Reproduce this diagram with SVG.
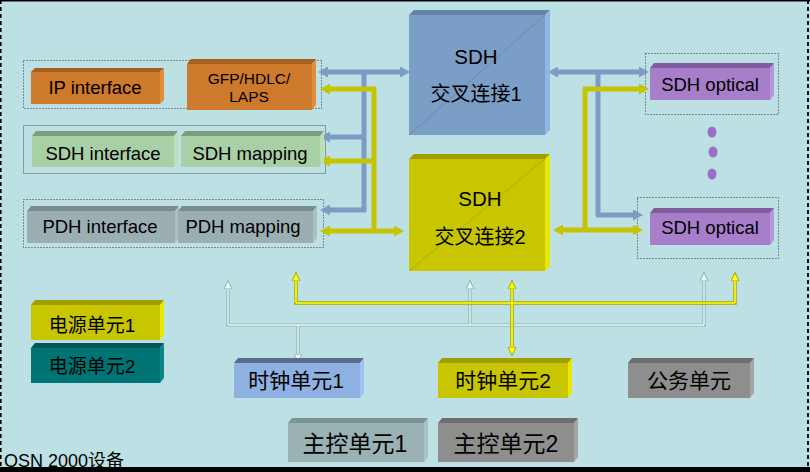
<svg xmlns="http://www.w3.org/2000/svg" width="810" height="472" viewBox="0 0 810 472">
<defs>
<style>
.t{font-family:"Liberation Sans","Noto Sans CJK SC",Arial,sans-serif;fill:#000;text-anchor:middle}
.dot{fill:none;stroke:#333;stroke-width:1;stroke-dasharray:1,2}
.blue{fill:none;stroke:#7B9CC4;stroke-width:5}
.yel{fill:none;stroke:#C6C400;stroke-width:5}
.lt0{fill:none;stroke:#8FAFB2;stroke-width:3.2}
.lt{fill:none;stroke:#E6FAFA;stroke-width:1.4}
.ly0{fill:none;stroke:#A8A600;stroke-width:3.4}
.ly{fill:none;stroke:#FFFF10;stroke-width:1.6}
.diag{stroke:#000;stroke-opacity:0.13;stroke-width:1}
</style>
<marker id="ab" viewBox="0 0 10 11" refX="0" refY="5.5" markerWidth="10" markerHeight="11" markerUnits="userSpaceOnUse" orient="auto-start-reverse"><path d="M0,0 L10,5.5 L0,11 z" fill="#7B9CC4"/></marker>
<marker id="ay" viewBox="0 0 10 11" refX="0" refY="5.5" markerWidth="10" markerHeight="11" markerUnits="userSpaceOnUse" orient="auto-start-reverse"><path d="M0,0 L10,5.5 L0,11 z" fill="#C6C400"/></marker>
<marker id="al" viewBox="0 0 9 9" refX="0" refY="4.5" markerWidth="9" markerHeight="9" markerUnits="userSpaceOnUse" orient="auto-start-reverse"><path d="M0,0.5 L8.5,4.5 L0,8.5 z" fill="#E6FAFA" stroke="#8FAFB2" stroke-width="1"/></marker>
<marker id="aly" viewBox="0 0 9 9" refX="0" refY="4.5" markerWidth="9" markerHeight="9" markerUnits="userSpaceOnUse" orient="auto-start-reverse"><path d="M0,0.5 L8.5,4.5 L0,8.5 z" fill="#FFFF10" stroke="#A8A600" stroke-width="1"/></marker>
</defs>

<rect x="0" y="0" width="810" height="472" fill="#BDE0E4"/>
<rect x="0" y="0" width="810" height="1.5" fill="#000"/>
<rect x="0" y="467" width="810" height="5" fill="#000"/>
<line x1="0.8" y1="0" x2="0.8" y2="467" stroke="#000" stroke-width="1.6" stroke-dasharray="4,3"/>
<line x1="808" y1="0" x2="808" y2="467" stroke="#000" stroke-width="1.8" stroke-dasharray="4,3"/>

<!-- group frames -->
<g id="frames">
<rect class="dot" x="23.5" y="60.5" width="298" height="48"/>
<rect x="23.5" y="125.5" width="302" height="48" fill="none" stroke="#86999C" stroke-width="1"/>
<rect class="dot" x="23.5" y="199.5" width="300" height="48"/>
<rect class="dot" x="645.5" y="53.5" width="133" height="61"/>
<rect class="dot" x="637.5" y="197.5" width="141" height="61"/>
</g>

<!-- connectors -->
<g id="connectors">
<!-- left bus blue -->
<path class="blue" d="M364,72 V212"/>
<line class="blue" x1="328" y1="72" x2="400" y2="72" marker-start="url(#ab)" marker-end="url(#ab)"/>
<line class="blue" x1="366" y1="137" x2="330" y2="137" marker-end="url(#ab)"/>
<line class="blue" x1="366" y1="210" x2="330" y2="210" marker-end="url(#ab)"/>
<!-- left bus yellow -->
<path class="yel" d="M374,89 V231"/>
<line class="yel" x1="376" y1="89" x2="330" y2="89" marker-end="url(#ay)"/>
<line class="yel" x1="376" y1="161" x2="330" y2="161" marker-end="url(#ay)"/>
<line class="yel" x1="330" y1="231" x2="394" y2="231" marker-start="url(#ay)" marker-end="url(#ay)"/>
<!-- right bus blue -->
<path class="blue" d="M598,72 V215"/>
<line class="blue" x1="558" y1="72" x2="639" y2="72" marker-start="url(#ab)" marker-end="url(#ab)"/>
<line class="blue" x1="596" y1="215" x2="633" y2="215" marker-end="url(#ab)"/>
<!-- right bus yellow -->
<path class="yel" d="M585,89 V230"/>
<line class="yel" x1="583" y1="89" x2="639" y2="89" marker-end="url(#ay)"/>
<line class="yel" x1="563" y1="230" x2="633" y2="230" marker-start="url(#ay)" marker-end="url(#ay)"/>
<!-- light clock lines -->
<path class="lt0" d="M228,289 V325 H704 V281 M298,325 V354 M470,325 V289"/>
<path class="lt" d="M228,325 H704"/>
<line class="lt" x1="228" y1="325" x2="228" y2="289" marker-end="url(#al)"/>
<line class="lt" x1="704" y1="325" x2="704" y2="281" marker-end="url(#al)"/>
<line class="lt" x1="470" y1="325" x2="470" y2="289" marker-end="url(#al)"/>
<line class="lt" x1="298" y1="325" x2="298" y2="354" marker-end="url(#al)"/>
<!-- yellow thin lines -->
<path class="ly0" d="M296,281 V303 H735 V281 M512,289 V347"/>
<path class="ly" d="M296,303 H735"/>
<line class="ly" x1="296" y1="303" x2="296" y2="281" marker-end="url(#aly)"/>
<line class="ly" x1="735" y1="303" x2="735" y2="281" marker-end="url(#aly)"/>
<line class="ly" x1="512" y1="289" x2="512" y2="347" marker-start="url(#aly)" marker-end="url(#aly)"/>
</g>

<!-- nodes -->
<g id="ip-interface">
<polygon points="31,72 35,68 164,68 160,72" fill="#A65F1F"/>
<polygon points="160,72 164,68 164,100 160,104" fill="#E38C3A"/>
<rect x="31" y="72" width="129" height="32" fill="#CD7A2C"/>
<text class="t" x="95" y="94" font-size="18.5">IP interface</text>
</g>
<g id="gfp">
<polygon points="187,64 191,59 316,59 312,64" fill="#A65F1F"/>
<polygon points="312,64 316,59 316,105 312,110" fill="#E38C3A"/>
<rect x="187" y="64" width="125" height="46" fill="#CD7A2C"/>
<text class="t" x="249" y="84" font-size="15.5">GFP/HDLC/</text>
<text class="t" x="249" y="102" font-size="15.5">LAPS</text>
</g>
<g id="sdh-interface">
<polygon points="32,136 36,131 178,131 174,136" fill="#7E9C7C"/>
<polygon points="174,136 178,131 178,162 174,167" fill="#BADFB8"/>
<rect x="32" y="136" width="142" height="31" fill="#A8CFA6"/>
<text class="t" x="103" y="160" font-size="18.5">SDH interface</text>
</g>
<g id="sdh-mapping">
<polygon points="181,136 185,131 324,131 320,136" fill="#7E9C7C"/>
<polygon points="320,136 324,131 324,162 320,167" fill="#BADFB8"/>
<rect x="181" y="136" width="139" height="31" fill="#A8CFA6"/>
<text class="t" x="250" y="160" font-size="18.5">SDH mapping</text>
</g>
<g id="pdh-interface">
<polygon points="27,211 31,206 179,206 175,211" fill="#7A8D90"/>
<polygon points="175,211 179,206 179,238 175,243" fill="#AAC0C2"/>
<rect x="27" y="211" width="148" height="32" fill="#9BAFB2"/>
<text class="t" x="100" y="233" font-size="18.5">PDH interface</text>
</g>
<g id="pdh-mapping">
<polygon points="178,211 182,206 317,206 313,211" fill="#7A8D90"/>
<polygon points="313,211 317,206 317,238 313,243" fill="#AAC0C2"/>
<rect x="178" y="211" width="135" height="32" fill="#9BAFB2"/>
<text class="t" x="243" y="233" font-size="18.5">PDH mapping</text>
</g>
<g id="sdh-cc1">
<polygon points="409,15 414,10 550,10 545,15" fill="#6283AA"/>
<polygon points="545,15 550,10 550,130 545,135" fill="#8EB6E6"/>
<rect x="409" y="15" width="136" height="120" fill="#7B9EC6"/>
<line class="diag" x1="409" y1="135" x2="545" y2="15"/>
<text class="t" x="476" y="64" font-size="20.5">SDH</text>
<text class="t" x="476" y="101" font-size="20">交叉连接1</text>
</g>
<g id="sdh-cc2">
<polygon points="409,159 414,154 550,154 545,159" fill="#A09E00"/>
<polygon points="545,159 550,154 550,266 545,271" fill="#E8E800"/>
<rect x="409" y="159" width="136" height="112" fill="#C8C600"/>
<line class="diag" x1="409" y1="271" x2="545" y2="159"/>
<text class="t" x="480" y="206" font-size="20.5">SDH</text>
<text class="t" x="480" y="244" font-size="20">交叉连接2</text>
</g>
<g id="sdh-optical1">
<polygon points="650,68 654,63 774,63 770,68" fill="#7E5E9E"/>
<polygon points="770,68 774,63 774,95 770,100" fill="#B794DE"/>
<rect x="650" y="68" width="120" height="32" fill="#A67ECA"/>
<text class="t" x="710" y="91" font-size="18.5">SDH optical</text>
</g>
<g id="dots" fill="#9B70C4">
<ellipse cx="712" cy="132" rx="4.5" ry="5.5"/>
<ellipse cx="713" cy="152" rx="4.5" ry="5.5"/>
<ellipse cx="712" cy="174" rx="4.5" ry="5.5"/>
</g>
<g id="sdh-optical2">
<polygon points="650,213 654,208 774,208 770,213" fill="#7E5E9E"/>
<polygon points="770,213 774,208 774,240 770,245" fill="#B794DE"/>
<rect x="650" y="213" width="120" height="32" fill="#A67ECA"/>
<text class="t" x="710" y="234" font-size="18.5">SDH optical</text>
</g>
<g id="power1">
<polygon points="31,305 35,300 164,300 160,305" fill="#A09E00"/>
<polygon points="160,305 164,300 164,335 160,340" fill="#E8E800"/>
<rect x="31" y="305" width="129" height="35" fill="#C8C600"/>
<text class="t" x="92" y="332" font-size="19">电源单元1</text>
</g>
<g id="power2">
<polygon points="31,348 35,343 164,343 160,348" fill="#005656"/>
<polygon points="160,348 164,343 164,378 160,383" fill="#0E8686"/>
<rect x="31" y="348" width="129" height="35" fill="#007474"/>
<text class="t" x="92" y="373" font-size="19">电源单元2</text>
</g>
<g id="clock1">
<polygon points="234,363 238,358 364,358 360,363" fill="#5A6E8C"/>
<polygon points="360,363 364,358 364,393 360,398" fill="#A0C2F2"/>
<rect x="234" y="363" width="126" height="35" fill="#8FB1E2"/>
<text class="t" x="296" y="388" font-size="21">时钟单元1</text>
</g>
<g id="clock2">
<polygon points="438,363 442,358 572,358 568,363" fill="#A09E00"/>
<polygon points="568,363 572,358 572,393 568,398" fill="#E8E800"/>
<rect x="438" y="363" width="130" height="35" fill="#C8C600"/>
<text class="t" x="503" y="388" font-size="21">时钟单元2</text>
</g>
<g id="orderwire">
<polygon points="628,363 632,358 754,358 750,363" fill="#6E6E6E"/>
<polygon points="750,363 754,358 754,393 750,398" fill="#A4A4A4"/>
<rect x="628" y="363" width="122" height="35" fill="#8E8E8E"/>
<text class="t" x="689" y="388" font-size="21">公务单元</text>
</g>
<g id="main1">
<polygon points="288,423 292,418 428,418 424,423" fill="#7C9496"/>
<polygon points="424,423 428,418 428,457 424,462" fill="#AAC2C4"/>
<rect x="288" y="423" width="136" height="39" fill="#9AB2B4"/>
<text class="t" x="355" y="452" font-size="23">主控单元1</text>
</g>
<g id="main2">
<polygon points="438,423 442,418 578,418 574,423" fill="#6E6E6E"/>
<polygon points="574,423 578,418 578,457 574,462" fill="#A4A4A4"/>
<rect x="438" y="423" width="136" height="39" fill="#8E8E8E"/>
<text class="t" x="506" y="452" font-size="23">主控单元2</text>
</g>
<text class="t" x="4" y="467" font-size="18" style="text-anchor:start">OSN 2000设备</text>
</svg>
